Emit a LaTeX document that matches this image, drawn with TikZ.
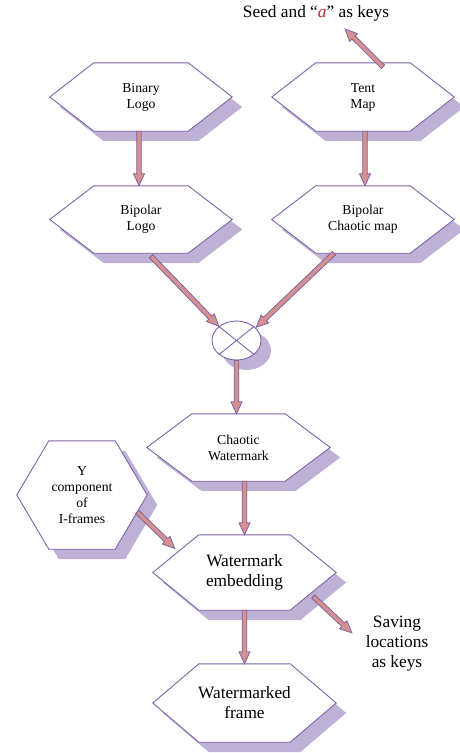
\documentclass[tikz,border=0pt]{standalone}
\usepackage{fontspec}
\setmainfont{Liberation Serif}
\usetikzlibrary{calc,backgrounds,shapes.geometric}
\definecolor{linec}{RGB}{127,99,168}
\definecolor{shadc}{RGB}{191,177,213}
\definecolor{arrc}{RGB}{212,145,141}
\definecolor{keyred}{RGB}{192,40,45}
\tikzset{
  hexnode/.style={rectangle, inner sep=0pt, minimum width=#1, align=center},
  smalltxt/.style={font=\fontsize{13.7}{16}\selectfont},
  largetxt/.style={font=\fontsize{17.3}{20}\selectfont},
  arrowsty/.style={fill=arrc, draw=linec, line width=0.8pt, line join=miter},
  hexline/.style={fill=white, draw=linec, line width=0.9pt, line join=miter},
  shadowsty/.style={fill=shadc},
}
\newcommand\hexshadow[2]{%
  \fill[shadowsty] ($(#1.west)+(10,10)$) -- ($(#1.north west)+({#2+10},10)$) -- ($(#1.north east)+({10-#2},10)$) -- ($(#1.east)+(10,10)$) -- ($(#1.south east)+({10-#2},10)$) -- ($(#1.south west)+({#2+10},10)$) -- cycle;}
\newcommand\hexfill[2]{%
  \filldraw[hexline] (#1.west) -- ($(#1.north west)+(#2,0)$) -- ($(#1.north east)+(-#2,0)$) -- (#1.east) -- ($(#1.south east)+(-#2,0)$) -- ($(#1.south west)+(#2,0)$) -- cycle;}
\newcommand\fatarrow[2]{%
  \path (#1) coordinate (fas) (#2) coordinate (fae);
  \pgfpointdiff{\pgfpointanchor{fas}{center}}{\pgfpointanchor{fae}{center}}%
  \pgfgetlastxy{\fadx}{\fady}%
  \pgfmathsetmacro\faang{atan2(\fady,\fadx)}%
  \pgfmathsetmacro\falen{veclen(\fadx,\fady)}%
  \begin{scope}[shift={(fas)}, rotate=\faang, x=1pt, y=1pt]
    \filldraw[arrowsty] (0,-2.3) -- ({\falen-12},-2.3) -- ({\falen-12},-5.5) -- (\falen,0) -- ({\falen-12},5.5) -- ({\falen-12},2.3) -- (0,2.3) -- cycle;
  \end{scope}}
\begin{document}
\begin{tikzpicture}[x=1pt,y=-1pt]
\useasboundingbox (0,0) rectangle (459,753);
% nodes
\node[hexnode=182pt, minimum height=68pt, smalltxt] (bin) at (141,97) {Binary\\Logo};
\node[hexnode=182pt, minimum height=68pt, smalltxt] (tent) at (363,97) {Tent\\Map};
\node[hexnode=182pt, minimum height=67pt, smalltxt] (bpl) at (141,219.5) {Bipolar\\Logo};
\node[hexnode=182pt, minimum height=67pt, smalltxt] (bpc) at (363,219.5) {Bipolar\\Chaotic map};
\node[ellipse, draw=linec, fill=white, line width=0.9pt, minimum width=49pt, minimum height=39pt, inner sep=0pt] (mul) at (236.5,340.5) {};
\node[hexnode=183pt, minimum height=67pt, smalltxt] (cw) at (238.5,447.5) {Chaotic\\Watermark};
\node[hexnode=130pt, minimum height=108pt, smalltxt] (yc) at (82,495) {Y\\component\\of\\I-frames};
\node[hexnode=183pt, minimum height=75pt, largetxt] (we) at (244.5,572.5) {Watermark\\embedding};
\node[hexnode=183pt, minimum height=78pt, largetxt] (wf) at (244.5,703) {Watermarked\\frame};
\node[largetxt] (seed) at (316,13) {Seed and ``\textcolor{keyred}{\textit{a}}'' as keys};
\node[largetxt, align=center] (save) at (397,644) {Saving\\locations\\as keys};
\coordinate (seedtip) at (345,29);
\coordinate (savetip) at (352,633);
% backgrounds
\begin{pgfonlayer}{background}
  \hexshadow{bin}{44}\hexshadow{tent}{44}\hexshadow{bpl}{44}\hexshadow{bpc}{44}
  \hexshadow{cw}{45}\hexshadow{yc}{32}\hexshadow{we}{46}\hexshadow{wf}{46}
  \fill[shadowsty] ($(mul.center)+(10,10)$) ellipse [x radius=24.5pt, y radius=19.5pt];
  \hexfill{bin}{44}\hexfill{tent}{44}\hexfill{bpl}{44}\hexfill{bpc}{44}
  \hexfill{cw}{45}\hexfill{yc}{32}\hexfill{we}{46}\hexfill{wf}{46}
\end{pgfonlayer}
% multiplier cross
\draw[linec, line width=0.9pt] (mul.north west) -- (mul.south east) (mul.north east) -- (mul.south west);
% arrows
\fatarrow{$(bin.south)+(-2,0)$}{$(bpl.north)+(-2,0)$}
\fatarrow{$(tent.south)+(2,0)$}{$(bpc.north)+(2,0)$}
\fatarrow{$(tent.north)+(20,4)$}{seedtip}
\fatarrow{$(bpl.south)+(10,3)$}{mul.north west}
\fatarrow{$(bpc.south)+(-29,0)$}{$(mul.north east)+(2,1)$}
\fatarrow{mul.south}{mul.south |- cw.north}
\fatarrow{$(cw.south)+(6,0)$}{we.north}
\fatarrow{$(yc.east)+(-10,17)$}{$(we.west)+(22,-24)$}
\fatarrow{$(we.east)+(-23,24)$}{savetip}
\fatarrow{we.south}{wf.north}
\end{tikzpicture}
\end{document}
